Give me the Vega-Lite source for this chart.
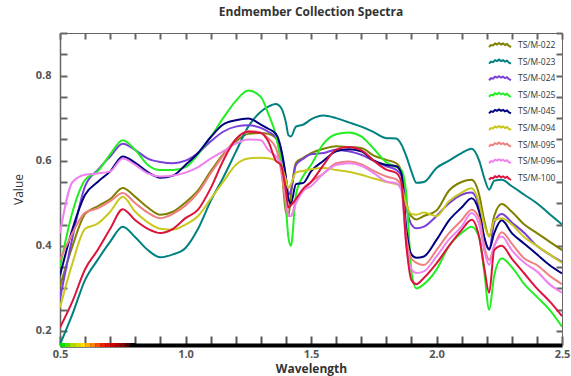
{
  "$schema": "https://vega.github.io/schema/vega-lite/v6.json",
  "width": 502,
  "height": 312,
  "autosize": "none",
  "padding": {"left": 60, "top": 33, "right": 9, "bottom": 31},
  "background": "white",
  "title": {"text": "Endmember Collection Spectra", "font": "Open Sans", "fontSize": 12, "fontWeight": "bold", "color": "#333", "offset": 8, "anchor": "middle"},
  "config": {
    "view": {"stroke": null},
    "axis": {"labelFont": "Open Sans", "labelFontWeight": "bold", "labelFontSize": 11, "labelColor": "#555", "domainColor": "#666", "grid": false, "titleFont": "Open Sans", "titleColor": "#333"}
  },
  "datasets": {
    "spectra": [
      {"w":0.50,"TS/M-022":0.305,"TS/M-023":0.168,"TS/M-024":0.275,"TS/M-025":0.35,"TS/M-045":0.33,"TS/M-094":0.255,"TS/M-095":0.367,"TS/M-096":0.43,"TS/M-100":0.208},
      {"w":0.55,"TS/M-022":0.40,"TS/M-023":0.24,"TS/M-024":0.42,"TS/M-025":0.48,"TS/M-045":0.44,"TS/M-094":0.36,"TS/M-095":0.43,"TS/M-096":0.55,"TS/M-100":0.27},
      {"w":0.60,"TS/M-022":0.475,"TS/M-023":0.32,"TS/M-024":0.54,"TS/M-025":0.555,"TS/M-045":0.52,"TS/M-094":0.44,"TS/M-095":0.478,"TS/M-096":0.567,"TS/M-100":0.345},
      {"w":0.65,"TS/M-022":0.493,"TS/M-023":0.367,"TS/M-024":0.578,"TS/M-025":0.575,"TS/M-045":0.55,"TS/M-094":0.452,"TS/M-095":0.488,"TS/M-096":0.57,"TS/M-100":0.39},
      {"w":0.70,"TS/M-022":0.51,"TS/M-023":0.41,"TS/M-024":0.61,"TS/M-025":0.615,"TS/M-045":0.575,"TS/M-094":0.48,"TS/M-095":0.505,"TS/M-096":0.575,"TS/M-100":0.44},
      {"w":0.75,"TS/M-022":0.536,"TS/M-023":0.445,"TS/M-024":0.64,"TS/M-025":0.648,"TS/M-045":0.61,"TS/M-094":0.515,"TS/M-095":0.524,"TS/M-096":0.605,"TS/M-100":0.486},
      {"w":0.80,"TS/M-022":0.515,"TS/M-023":0.42,"TS/M-024":0.625,"TS/M-025":0.625,"TS/M-045":0.595,"TS/M-094":0.48,"TS/M-095":0.50,"TS/M-096":0.59,"TS/M-100":0.46},
      {"w":0.85,"TS/M-022":0.49,"TS/M-023":0.39,"TS/M-024":0.605,"TS/M-025":0.59,"TS/M-045":0.573,"TS/M-094":0.455,"TS/M-095":0.478,"TS/M-096":0.57,"TS/M-100":0.44},
      {"w":0.90,"TS/M-022":0.473,"TS/M-023":0.373,"TS/M-024":0.597,"TS/M-025":0.578,"TS/M-045":0.56,"TS/M-094":0.44,"TS/M-095":0.465,"TS/M-096":0.563,"TS/M-100":0.43},
      {"w":0.95,"TS/M-022":0.48,"TS/M-023":0.38,"TS/M-024":0.594,"TS/M-025":0.578,"TS/M-045":0.565,"TS/M-094":0.438,"TS/M-095":0.475,"TS/M-096":0.565,"TS/M-100":0.44},
      {"w":1.00,"TS/M-022":0.502,"TS/M-023":0.395,"TS/M-024":0.60,"TS/M-025":0.585,"TS/M-045":0.59,"TS/M-094":0.45,"TS/M-095":0.495,"TS/M-096":0.572,"TS/M-100":0.465},
      {"w":1.05,"TS/M-022":0.53,"TS/M-023":0.44,"TS/M-024":0.618,"TS/M-025":0.615,"TS/M-045":0.618,"TS/M-094":0.47,"TS/M-095":0.525,"TS/M-096":0.585,"TS/M-100":0.485},
      {"w":1.10,"TS/M-022":0.575,"TS/M-023":0.505,"TS/M-024":0.645,"TS/M-025":0.655,"TS/M-045":0.655,"TS/M-094":0.51,"TS/M-095":0.57,"TS/M-096":0.605,"TS/M-100":0.535},
      {"w":1.15,"TS/M-022":0.615,"TS/M-023":0.56,"TS/M-024":0.668,"TS/M-025":0.70,"TS/M-045":0.685,"TS/M-094":0.55,"TS/M-095":0.612,"TS/M-096":0.622,"TS/M-100":0.60},
      {"w":1.20,"TS/M-022":0.645,"TS/M-023":0.62,"TS/M-024":0.68,"TS/M-025":0.74,"TS/M-045":0.695,"TS/M-094":0.59,"TS/M-095":0.65,"TS/M-096":0.64,"TS/M-100":0.65},
      {"w":1.25,"TS/M-022":0.663,"TS/M-023":0.68,"TS/M-024":0.683,"TS/M-025":0.765,"TS/M-045":0.699,"TS/M-094":0.605,"TS/M-095":0.67,"TS/M-096":0.65,"TS/M-100":0.668},
      {"w":1.30,"TS/M-022":0.665,"TS/M-023":0.715,"TS/M-024":0.677,"TS/M-025":0.75,"TS/M-045":0.685,"TS/M-094":0.607,"TS/M-095":0.666,"TS/M-096":0.648,"TS/M-100":0.665},
      {"w":1.33,"TS/M-022":0.663,"TS/M-023":0.727,"TS/M-024":0.668,"TS/M-025":0.71,"TS/M-045":0.675,"TS/M-094":0.606,"TS/M-095":0.652,"TS/M-096":0.625,"TS/M-100":0.645},
      {"w":1.36,"TS/M-022":0.653,"TS/M-023":0.733,"TS/M-024":0.655,"TS/M-025":0.66,"TS/M-045":0.663,"TS/M-094":0.60,"TS/M-095":0.63,"TS/M-096":0.61,"TS/M-100":0.60},
      {"w":1.38,"TS/M-022":0.60,"TS/M-023":0.725,"TS/M-024":0.625,"TS/M-025":0.60,"TS/M-045":0.63,"TS/M-094":0.59,"TS/M-095":0.58,"TS/M-096":0.59,"TS/M-100":0.59},
      {"w":1.40,"TS/M-022":0.48,"TS/M-023":0.69,"TS/M-024":0.56,"TS/M-025":0.49,"TS/M-045":0.56,"TS/M-094":0.555,"TS/M-095":0.50,"TS/M-096":0.52,"TS/M-100":0.53},
      {"w":1.41,"TS/M-022":0.47,"TS/M-023":0.66,"TS/M-024":0.52,"TS/M-025":0.42,"TS/M-045":0.51,"TS/M-094":0.535,"TS/M-095":0.47,"TS/M-096":0.47,"TS/M-100":0.49},
      {"w":1.42,"TS/M-022":0.52,"TS/M-023":0.657,"TS/M-024":0.53,"TS/M-025":0.40,"TS/M-045":0.50,"TS/M-094":0.545,"TS/M-095":0.47,"TS/M-096":0.47,"TS/M-100":0.495},
      {"w":1.44,"TS/M-022":0.595,"TS/M-023":0.68,"TS/M-024":0.59,"TS/M-025":0.52,"TS/M-045":0.545,"TS/M-094":0.572,"TS/M-095":0.505,"TS/M-096":0.50,"TS/M-100":0.51},
      {"w":1.47,"TS/M-022":0.607,"TS/M-023":0.685,"TS/M-024":0.605,"TS/M-025":0.565,"TS/M-045":0.548,"TS/M-094":0.576,"TS/M-095":0.53,"TS/M-096":0.53,"TS/M-100":0.535},
      {"w":1.50,"TS/M-022":0.618,"TS/M-023":0.697,"TS/M-024":0.615,"TS/M-025":0.59,"TS/M-045":0.575,"TS/M-094":0.58,"TS/M-095":0.55,"TS/M-096":0.54,"TS/M-100":0.55},
      {"w":1.55,"TS/M-022":0.628,"TS/M-023":0.706,"TS/M-024":0.618,"TS/M-025":0.64,"TS/M-045":0.60,"TS/M-094":0.583,"TS/M-095":0.57,"TS/M-096":0.57,"TS/M-100":0.59},
      {"w":1.60,"TS/M-022":0.634,"TS/M-023":0.70,"TS/M-024":0.626,"TS/M-025":0.662,"TS/M-045":0.622,"TS/M-094":0.578,"TS/M-095":0.594,"TS/M-096":0.59,"TS/M-100":0.626},
      {"w":1.65,"TS/M-022":0.632,"TS/M-023":0.69,"TS/M-024":0.622,"TS/M-025":0.666,"TS/M-045":0.627,"TS/M-094":0.574,"TS/M-095":0.598,"TS/M-096":0.594,"TS/M-100":0.632},
      {"w":1.70,"TS/M-022":0.63,"TS/M-023":0.68,"TS/M-024":0.614,"TS/M-025":0.657,"TS/M-045":0.622,"TS/M-094":0.567,"TS/M-095":0.592,"TS/M-096":0.588,"TS/M-100":0.625},
      {"w":1.75,"TS/M-022":0.612,"TS/M-023":0.667,"TS/M-024":0.60,"TS/M-025":0.628,"TS/M-045":0.60,"TS/M-094":0.558,"TS/M-095":0.576,"TS/M-096":0.571,"TS/M-100":0.60},
      {"w":1.80,"TS/M-022":0.602,"TS/M-023":0.653,"TS/M-024":0.587,"TS/M-025":0.596,"TS/M-045":0.59,"TS/M-094":0.55,"TS/M-095":0.563,"TS/M-096":0.551,"TS/M-100":0.579},
      {"w":1.84,"TS/M-022":0.594,"TS/M-023":0.652,"TS/M-024":0.578,"TS/M-025":0.585,"TS/M-045":0.587,"TS/M-094":0.545,"TS/M-095":0.556,"TS/M-096":0.547,"TS/M-100":0.571},
      {"w":1.86,"TS/M-022":0.575,"TS/M-023":0.638,"TS/M-024":0.565,"TS/M-025":0.578,"TS/M-045":0.57,"TS/M-094":0.54,"TS/M-095":0.54,"TS/M-096":0.53,"TS/M-100":0.55},
      {"w":1.88,"TS/M-022":0.50,"TS/M-023":0.61,"TS/M-024":0.49,"TS/M-025":0.52,"TS/M-045":0.44,"TS/M-094":0.495,"TS/M-095":0.42,"TS/M-096":0.40,"TS/M-100":0.40},
      {"w":1.90,"TS/M-022":0.469,"TS/M-023":0.575,"TS/M-024":0.45,"TS/M-025":0.34,"TS/M-045":0.38,"TS/M-094":0.475,"TS/M-095":0.37,"TS/M-096":0.345,"TS/M-100":0.32},
      {"w":1.92,"TS/M-022":0.462,"TS/M-023":0.548,"TS/M-024":0.441,"TS/M-025":0.30,"TS/M-045":0.372,"TS/M-094":0.473,"TS/M-095":0.36,"TS/M-096":0.336,"TS/M-100":0.31},
      {"w":1.95,"TS/M-022":0.47,"TS/M-023":0.55,"TS/M-024":0.445,"TS/M-025":0.31,"TS/M-045":0.375,"TS/M-094":0.478,"TS/M-095":0.355,"TS/M-096":0.34,"TS/M-100":0.325},
      {"w":2.00,"TS/M-022":0.483,"TS/M-023":0.583,"TS/M-024":0.47,"TS/M-025":0.344,"TS/M-045":0.414,"TS/M-094":0.47,"TS/M-095":0.39,"TS/M-096":0.375,"TS/M-100":0.359},
      {"w":2.05,"TS/M-022":0.53,"TS/M-023":0.60,"TS/M-024":0.50,"TS/M-025":0.40,"TS/M-045":0.46,"TS/M-094":0.505,"TS/M-095":0.43,"TS/M-096":0.415,"TS/M-100":0.40},
      {"w":2.10,"TS/M-022":0.55,"TS/M-023":0.618,"TS/M-024":0.52,"TS/M-025":0.43,"TS/M-045":0.49,"TS/M-094":0.525,"TS/M-095":0.46,"TS/M-096":0.445,"TS/M-100":0.437},
      {"w":2.14,"TS/M-022":0.555,"TS/M-023":0.628,"TS/M-024":0.525,"TS/M-025":0.445,"TS/M-045":0.512,"TS/M-094":0.535,"TS/M-095":0.485,"TS/M-096":0.477,"TS/M-100":0.461},
      {"w":2.17,"TS/M-022":0.52,"TS/M-023":0.60,"TS/M-024":0.49,"TS/M-025":0.42,"TS/M-045":0.48,"TS/M-094":0.50,"TS/M-095":0.465,"TS/M-096":0.45,"TS/M-100":0.42},
      {"w":2.19,"TS/M-022":0.46,"TS/M-023":0.56,"TS/M-024":0.42,"TS/M-025":0.34,"TS/M-045":0.42,"TS/M-094":0.45,"TS/M-095":0.40,"TS/M-096":0.39,"TS/M-100":0.35},
      {"w":2.21,"TS/M-022":0.422,"TS/M-023":0.532,"TS/M-024":0.39,"TS/M-025":0.25,"TS/M-045":0.392,"TS/M-094":0.422,"TS/M-095":0.367,"TS/M-096":0.355,"TS/M-100":0.29},
      {"w":2.23,"TS/M-022":0.47,"TS/M-023":0.553,"TS/M-024":0.455,"TS/M-025":0.33,"TS/M-045":0.43,"TS/M-094":0.46,"TS/M-095":0.40,"TS/M-096":0.40,"TS/M-100":0.39},
      {"w":2.26,"TS/M-022":0.498,"TS/M-023":0.555,"TS/M-024":0.475,"TS/M-025":0.37,"TS/M-045":0.46,"TS/M-094":0.465,"TS/M-095":0.432,"TS/M-096":0.422,"TS/M-100":0.40},
      {"w":2.30,"TS/M-022":0.48,"TS/M-023":0.54,"TS/M-024":0.455,"TS/M-025":0.35,"TS/M-045":0.43,"TS/M-094":0.45,"TS/M-095":0.405,"TS/M-096":0.39,"TS/M-100":0.37},
      {"w":2.35,"TS/M-022":0.45,"TS/M-023":0.52,"TS/M-024":0.43,"TS/M-025":0.31,"TS/M-045":0.405,"TS/M-094":0.42,"TS/M-095":0.37,"TS/M-096":0.36,"TS/M-100":0.335},
      {"w":2.40,"TS/M-022":0.43,"TS/M-023":0.50,"TS/M-024":0.40,"TS/M-025":0.28,"TS/M-045":0.38,"TS/M-094":0.40,"TS/M-095":0.355,"TS/M-096":0.34,"TS/M-100":0.30},
      {"w":2.45,"TS/M-022":0.41,"TS/M-023":0.475,"TS/M-024":0.38,"TS/M-025":0.25,"TS/M-045":0.355,"TS/M-094":0.38,"TS/M-095":0.33,"TS/M-096":0.31,"TS/M-100":0.27},
      {"w":2.50,"TS/M-022":0.39,"TS/M-023":0.45,"TS/M-024":0.362,"TS/M-025":0.21,"TS/M-045":0.335,"TS/M-094":0.36,"TS/M-095":0.31,"TS/M-096":0.29,"TS/M-100":0.235}
    ],
    "band": [
      {"a":0.50,"b":0.52},{"a":0.52,"b":0.54},{"a":0.54,"b":0.56},{"a":0.56,"b":0.58},{"a":0.58,"b":0.60},
      {"a":0.60,"b":0.62},{"a":0.62,"b":0.64},{"a":0.64,"b":0.66},{"a":0.66,"b":0.68},{"a":0.68,"b":0.70},
      {"a":0.70,"b":0.72},{"a":0.72,"b":0.74},{"a":0.74,"b":0.76},{"a":0.76,"b":0.78},{"a":0.78,"b":0.80}
    ]
  },
  "layer": [
    {
      "data": {"name": "spectra"},
      "transform": [{"fold": ["TS/M-022","TS/M-023","TS/M-024","TS/M-025","TS/M-045","TS/M-094","TS/M-095","TS/M-096","TS/M-100"], "as": ["series","v"]}],
      "mark": {"type": "line", "strokeWidth": 2, "interpolate": "monotone", "clip": true},
      "encoding": {
        "x": {"field": "w", "type": "quantitative", "scale": {"domain": [0.5, 2.5], "nice": false, "zero": false},
          "axis": {"orient": "top", "title": null, "labels": false,
            "values": [0.5,0.6,0.7,0.8,0.9,1.0,1.1,1.2,1.3,1.4,1.5,1.6,1.7,1.8,1.9,2.0,2.1,2.2,2.3,2.4,2.5],
            "tickSize": -6, "tickColor": "#666", "tickWidth": 2}},
        "y": {"field": "v", "type": "quantitative", "scale": {"domain": [0.167, 0.9], "nice": false, "zero": false},
          "axis": {"orient": "left", "title": "Value", "titleFontSize": 12, "titleFontWeight": "normal", "titlePadding": 10,
            "values": [0.2,0.25,0.3,0.35,0.4,0.45,0.5,0.55,0.6,0.65,0.7,0.75,0.8,0.85,0.9],
            "labelExpr": "abs(datum.value*5 - round(datum.value*5)) < 0.001 ? format(datum.value, '.1f') : ''",
            "tickSize": -7, "tickColor": "#666", "tickWidth": 2, "labelPadding": 16, "domainWidth": 1.5,
            "labelFlush": false, "labelOverlap": false}},
        "color": {"field": "series", "type": "nominal",
          "scale": {"domain": ["TS/M-022","TS/M-023","TS/M-024","TS/M-025","TS/M-045","TS/M-094","TS/M-095","TS/M-096","TS/M-100"],
            "range": ["#808000","#008080","#7a3fd8","#22ee22","#00007f","#c8c81e","#f08080","#ee82ee","#dc143c"]},
          "legend": {"orient": "top-right", "title": null, "offset": 6, "padding": 0, "symbolType": "M-2.2,0.4 L-1.8,0 L-1.4,0.1 L-1,-0.3 L-0.6,-0.1 L-0.2,-0.4 L0.2,-0.1 L0.6,-0.3 L1,0 L1.4,-0.2 L1.8,0.2 L2.2,0.4",
            "symbolSize": 100, "symbolStrokeWidth": 2, "labelFont": "Open Sans", "labelFontSize": 8.5, "labelColor": "#333", "labelOffset": 12, "rowPadding": 4.6}}
      }
    },
    {
      "data": {"name": "band"},
      "mark": {"type": "rule", "strokeWidth": 4},
      "encoding": {
        "x": {"field": "a", "type": "quantitative", "scale": {"domain": [0.5, 2.5], "nice": false, "zero": false},
          "axis": {"orient": "bottom", "title": "Wavelength", "titleFontSize": 12, "titleFontWeight": "bold", "titlePadding": 4,
            "values": [0.5,0.6,0.7,0.8,0.9,1.0,1.1,1.2,1.3,1.4,1.5,1.6,1.7,1.8,1.9,2.0,2.1,2.2,2.3,2.4,2.5],
            "labelExpr": "abs(datum.value*2 - round(datum.value*2)) < 0.001 ? format(datum.value, '.1f') : ''",
            "tickSize": -9, "tickColor": "#555", "tickWidth": 2, "labelPadding": 12, "domainColor": "black", "domainWidth": 4,
            "labelFlush": false, "labelOverlap": false}},
        "x2": {"field": "b"},
        "y": {"datum": 0.167, "type": "quantitative", "scale": {"domain": [0.167, 0.9], "nice": false, "zero": false},
          "axis": {"orient": "right", "title": null, "labels": false,
            "values": [0.2,0.25,0.3,0.35,0.4,0.45,0.5,0.55,0.6,0.65,0.7,0.75,0.8,0.85,0.9],
            "tickSize": -6, "tickColor": "#666", "tickWidth": 2}},
        "color": {"field": "a", "type": "quantitative",
          "scale": {"domain": [0.5, 0.54, 0.58, 0.62, 0.66, 0.70, 0.74, 0.78], "range": ["#00dd00", "#aadd00", "#ffdd00", "#ff8000", "#ee2000", "#cc0000", "#880000", "#000000"], "interpolate": "rgb"},
          "legend": null}
      }
    }
  ],
  "resolve": {"axis": {"x": "independent", "y": "independent"}, "scale": {"color": "independent"}}
}
